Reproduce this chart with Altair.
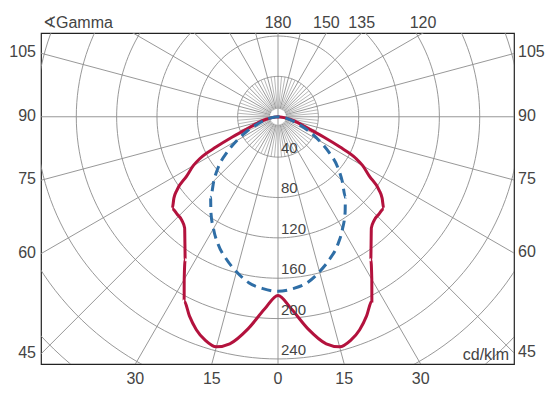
import numpy as np
import pandas as pd
import altair as alt

# ---- data ----
# C0-C180 plane (red, solid): gamma (deg from nadir) -> cd/klm, symmetric
red_gamma = [0, 4, 8, 12, 15, 18, 21, 24, 27, 30, 33, 36, 40, 43, 46, 49, 52, 54, 57, 60, 62, 64, 66, 68, 70, 74, 78, 82, 86, 90]
red_vals = [177, 191, 212, 230, 236, 233, 226, 216, 205, 186, 169, 157, 144, 140, 139, 139, 131, 124, 108, 97, 87, 68, 50, 36, 28, 20, 12, 6, 2, 0]
# C90-C270 plane (blue, dashed)
blue_gamma = [0, 5, 10, 15, 20, 25, 30, 35, 40, 45, 50, 55, 60, 65, 70, 75, 80, 85, 90]
blue_vals = [173, 171, 167, 159, 150, 140, 128, 116, 104, 90, 77, 62, 47, 34, 22, 14, 8, 3, 0]

ring_values = [40, 80, 120, 160, 200, 240, 280, 320]
ring_labels = ["40", "80", "120", "160", "200", "240"]
left_ticks = [105, 90, 75, 60, 45]
right_ticks = [105, 90, 75, 60, 45]
bottom_ticks = [-30, -15, 0, 15, 30]
top_ticks = [180, 150, 135, 120]
unit_label = "cd/klm"
angle_title = "∢Gamma"

XMIN, XMAX = -235.0, 234.0
YMIN, YMAX = -245.0, 83.0

FONT = "Liberation Sans, Arial, sans-serif"
GRID = "#8c8c8c"
TXT = "#444444"

xs = alt.Scale(domain=[XMIN, XMAX], nice=False, zero=False)
ys = alt.Scale(domain=[YMIN, YMAX], nice=False, zero=False)

def X(f="x"):
    return alt.X(f"{f}:Q", scale=xs, axis=None)

def Y(f="y"):
    return alt.Y(f"{f}:Q", scale=ys, axis=None)

# rings
rows = []
for r in ring_values:
    for i, t in enumerate(range(0, 362, 2)):
        a = np.radians(t)
        rows.append({"ring": r, "i": i, "x": r * np.sin(a), "y": r * np.cos(a)})
rings_df = pd.DataFrame(rows)
rings = alt.Chart(rings_df).mark_line(clip=True, color=GRID, strokeWidth=0.9).encode(
    x=X(), y=Y(), detail="ring:N", order="i:Q")

# radial lines: every 15 deg to the frame, every 5 deg inside the first ring
rows_major, rows_minor = [], []
for g in range(0, 181, 5):
    for s in ([1] if g in (0, 180) else [-1, 1]):
        a = np.radians(g)
        r0 = 0 if g % 90 == 0 else 8
        major = g % 15 == 0
        r1 = 500 if major else 40
        row = {"x": s * r0 * np.sin(a), "y": -r0 * np.cos(a),
               "x2": s * r1 * np.sin(a), "y2": -r1 * np.cos(a)}
        (rows_major if major else rows_minor).append(row)
spokes = alt.Chart(pd.DataFrame(rows_major)).mark_rule(clip=True, color=GRID, strokeWidth=0.9).encode(
    x=X(), y=Y(), x2="x2:Q", y2="y2:Q")
spokes_minor = alt.Chart(pd.DataFrame(rows_minor)).mark_rule(clip=True, color="#9a9a9a", strokeWidth=0.7).encode(
    x=X(), y=Y(), x2="x2:Q", y2="y2:Q")

def curve_df(gam, vals):
    rows = []
    k = 0
    for g, v in zip(reversed(gam), reversed(vals)):
        a = np.radians(g)
        rows.append({"i": k, "x": -v * np.sin(a), "y": -v * np.cos(a)}); k += 1
    for g, v in zip(gam[1:], vals[1:]):
        a = np.radians(g)
        rows.append({"i": k, "x": v * np.sin(a), "y": -v * np.cos(a)}); k += 1
    return pd.DataFrame(rows)

red = alt.Chart(curve_df(red_gamma, red_vals)).mark_line(
    clip=True, color="#b3123d", strokeWidth=3, interpolate="monotone").encode(
    x=X(), y=Y(), order="i:Q")
blue = alt.Chart(curve_df(blue_gamma, blue_vals)).mark_line(
    clip=True, color="#2f6ea6", strokeWidth=3, strokeDash=[10, 6], interpolate="monotone").encode(
    x=X(), y=Y(), order="i:Q")

# ring value labels
ring_lab_df = pd.DataFrame({"x": [0.0] * len(ring_labels),
                            "y": [-float(v) for v in ring_labels], "t": ring_labels})
ring_text = alt.Chart(ring_lab_df).mark_text(
    align="left", baseline="alphabetic", dx=3, dy=-4, font=FONT, fontSize=15, color=TXT).encode(
    x=X(), y=Y(), text="t:N")

def tan(g):
    return np.tan(np.radians(g))

left_df = pd.DataFrame({"x": [XMIN] * len(left_ticks),
                        "y": [-(-XMIN) * np.cos(np.radians(g)) / np.sin(np.radians(g)) for g in left_ticks],
                        "t": [str(g) for g in left_ticks]})
right_df = pd.DataFrame({"x": [XMAX] * len(right_ticks),
                         "y": [-XMAX * np.cos(np.radians(g)) / np.sin(np.radians(g)) for g in right_ticks],
                         "t": [str(g) for g in right_ticks]})
bottom_df = pd.DataFrame({"x": [(-YMIN) * tan(g) for g in bottom_ticks],
                          "y": [YMIN] * len(bottom_ticks),
                          "t": [str(abs(g)) for g in bottom_ticks]})
top_df = pd.DataFrame({"x": [YMAX * tan(180 - g) for g in top_ticks],
                       "y": [YMAX] * len(top_ticks),
                       "t": [str(g) for g in top_ticks]})

tstyle = dict(font=FONT, fontSize=16, color=TXT)
left_text = alt.Chart(left_df).mark_text(align="right", baseline="middle", dx=-5, dy=-1, **tstyle).encode(
    x=X(), y=Y(), text="t:N")
right_text = alt.Chart(right_df).mark_text(align="left", baseline="middle", dx=4, dy=-1, **tstyle).encode(
    x=X(), y=Y(), text="t:N")
bottom_text = alt.Chart(bottom_df).mark_text(align="center", baseline="alphabetic", dy=20, **tstyle).encode(
    x=X(), y=Y(), text="t:N")
top_text = alt.Chart(top_df).mark_text(align="center", baseline="alphabetic", dy=-5, **tstyle).encode(
    x=X(), y=Y(), text="t:N")

unit_text = alt.Chart(pd.DataFrame({"x": [XMAX], "y": [YMIN], "t": [unit_label]})).mark_text(
    align="right", baseline="alphabetic", dx=-5, dy=-4, **tstyle).encode(x=X(), y=Y(), text="t:N")
title_text = alt.Chart(pd.DataFrame({"x": [XMIN], "y": [YMAX], "t": [angle_title]})).mark_text(
    align="left", baseline="alphabetic", dx=2, dy=-5, **tstyle).encode(x=X(), y=Y(), text="t:N")

chart = alt.layer(rings, spokes_minor, spokes, red, blue, ring_text, left_text, right_text,
                  bottom_text, top_text, unit_text, title_text).properties(
    width=473, height=331,
    autosize=alt.AutoSizeParams(type="none"),
    padding={"left": 33, "top": 25, "right": 34, "bottom": 24},
    background="white",
).configure_view(stroke="#222222", strokeWidth=1.2)

chart.save("out.html", embed_options={"renderer": "svg", "actions": False})
